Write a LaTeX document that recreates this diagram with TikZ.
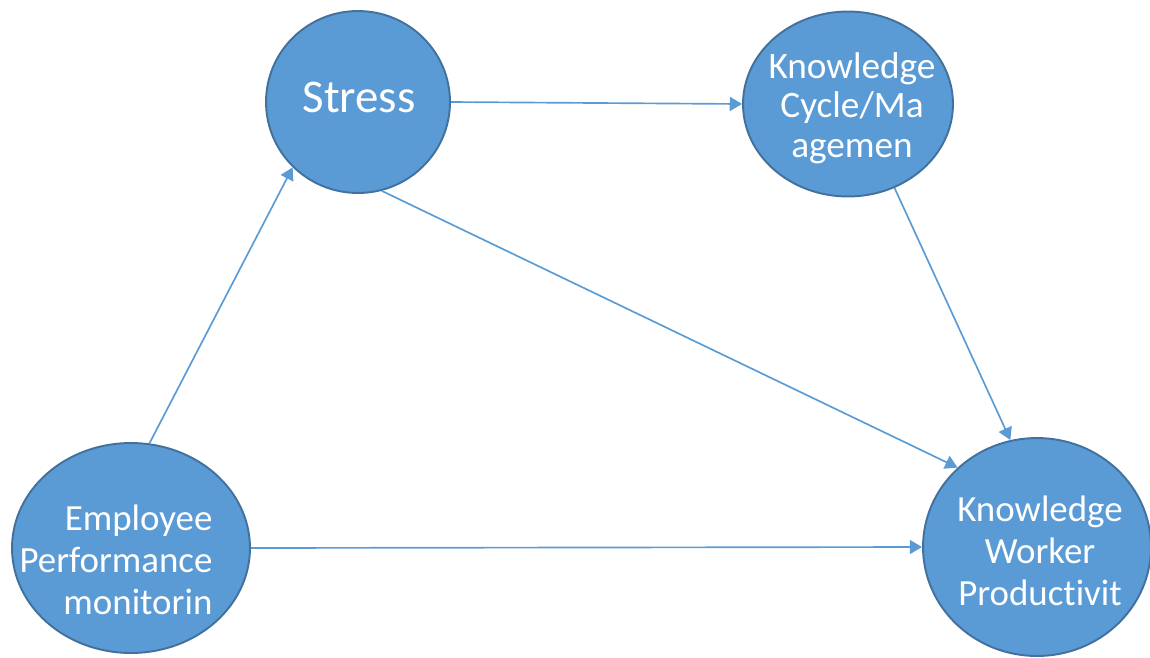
\documentclass[tikz,border=0pt]{standalone}
\usepackage{fontspec}
\setmainfont{Carlito}[Ligatures=NoCommon]
\usetikzlibrary{arrows.meta, shapes.geometric}
\definecolor{bfill}{HTML}{5B9BD5}
\definecolor{bline}{HTML}{41719C}
\tikzset{
  blob/.style={ellipse, draw=bline, fill=bfill, line width=1.1pt, inner sep=0pt},
  lbl/.style={text=white, inner sep=0pt, font=\fontsize{21}{23.9}\selectfont},
  link/.style={draw=bfill, line width=0.95pt, -{Triangle[length=7pt,width=8pt]}}
}

\begin{document}
\begin{tikzpicture}[x=0.02cm, y=-0.02cm]
    \useasboundingbox (0,0) rectangle (1150,657);
    % the four factors
    \node[blob, minimum width=3.68cm, minimum height=3.64cm] (stress) at (358,102) {};
    \node[blob, minimum width=4.2cm, minimum height=3.7cm] (kcm) at (848,104) {};
    \node[blob, minimum width=4.76cm, minimum height=4.2cm] (epm) at (131,548) {};
    \node[blob, minimum width=4.56cm, minimum height=4.36cm] (kwp) at (1037,547) {};
    \node[lbl, font=\fontsize{26.7}{30}\selectfont] (stress-t) at (359,97) {Stress};
    \node[lbl, align=center, font=\fontsize{21.2}{22.4}\selectfont]
      (kcm-t) at (852,108) {Knowledge\\Cycle/Ma\\agemen};
    \node[lbl, align=right] (epm-t) at (116,560) {Employee\\Performance\\monitorin};
    \node[lbl, align=center] (kwp-t) at (1040,551) {Knowledge\\Worker\\Productivit};
    % links
    \draw[link] (stress.east) -- (kcm.west);
    \draw[link] (stress.-75) -- (kwp.135);
    \draw[link] (kcm.-61) -- (kwp.104);
    \draw[link] (epm.80) -- (stress.225);
    \draw[link] (epm.east) -- (kwp.west);
\end{tikzpicture}
\end{document}
